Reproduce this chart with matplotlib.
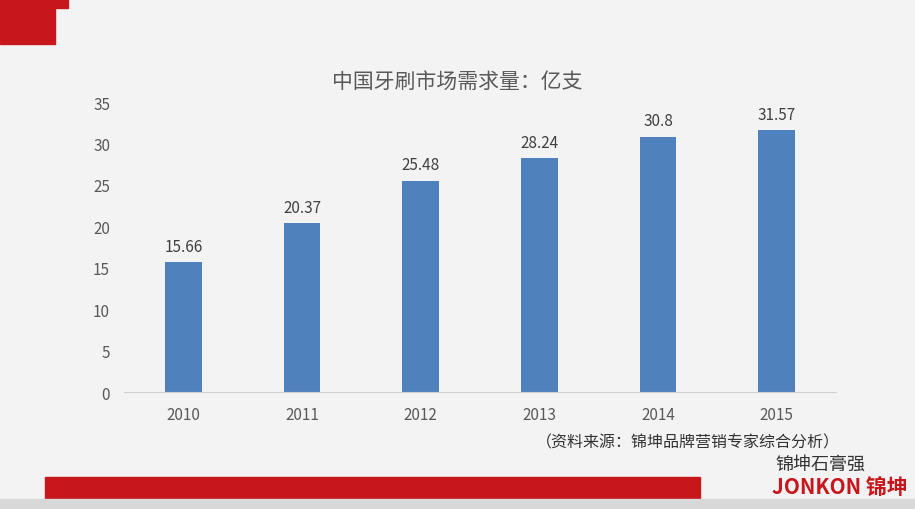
import matplotlib
matplotlib.use("Agg")
import matplotlib.pyplot as plt
from matplotlib.patches import Rectangle

plt.rcParams['font.family'] = ['Noto Sans CJK SC', 'DejaVu Sans']

years = ['2010', '2011', '2012', '2013', '2014', '2015']
values = [15.66, 20.37, 25.48, 28.24, 30.8, 31.57]
labels = ['15.66', '20.37', '25.48', '28.24', '30.8', '31.57']

fig = plt.figure(figsize=(9.15, 5.1), dpi=100)
fig.patch.set_facecolor('#f3f3f3')

fig.patches.append(Rectangle((0, 1-45/510), 55/915, 45/510, transform=fig.transFigure, color='#c8161d', zorder=0))
fig.patches.append(Rectangle((55/915, 1-9/510), 13/915, 9/510, transform=fig.transFigure, color='#c8161d', zorder=0))
fig.patches.append(Rectangle((45/915, 10/510), 655/915, 22/510, transform=fig.transFigure, color='#c8161d', zorder=0))
fig.patches.append(Rectangle((0, 0), 915/915, 10/510, transform=fig.transFigure, color='#d8d8d8', zorder=0))

ax = fig.add_axes([124/915, 1-393/510, 712/915, 290/510])
ax.set_facecolor('none')
x = range(len(years))
ax.bar(x, values, width=0.31, color='#4f81bd')
for i, v in enumerate(values):
    ax.text(i, v + 0.9, labels[i], ha='center', va='bottom', fontsize=11, color='#404040')
ax.set_ylim(0, 35)
ax.set_yticks(range(0, 36, 5))
ax.set_xlim(-0.5, 5.5)
ax.set_xticks(list(x))
ax.set_xticklabels(years)
ax.tick_params(axis='both', length=0, labelsize=11, colors='#595959', pad=10)
for s in ['top', 'right', 'left']:
    ax.spines[s].set_visible(False)
ax.spines['bottom'].set_color('#d0d0d0')

fig.text(0.5, 1-82/510, '中国牙刷市场需求量：亿支', ha='center', va='center', fontsize=15, color='#595959')
fig.text(688/915, 1-443/510, '（资料来源：锦坤品牌营销专家综合分析）', ha='center', va='center', fontsize=11.5, color='#333333')
fig.text(820/915, 1-465/510, '锦坤石膏强', ha='center', va='center', fontsize=13, color='#333333')
fig.text(840/915, 1-487/510, 'JONKON 锦坤', ha='center', va='center', fontsize=15, color='#c8161d', fontweight='bold')

fig.savefig('out.png', dpi=100, facecolor=fig.get_facecolor())
